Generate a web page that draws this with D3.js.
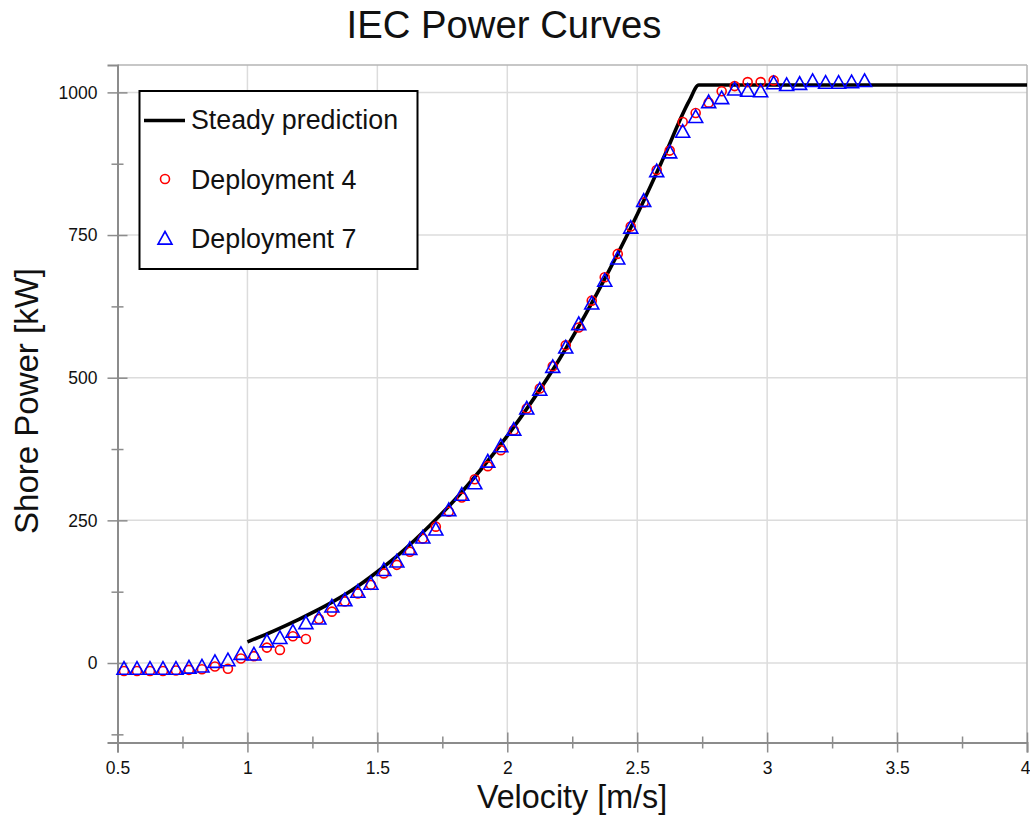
<!DOCTYPE html>
<html>
<head>
<meta charset="utf-8">
<script src="https://cdn.jsdelivr.net/npm/d3@7/dist/d3.min.js"></script>
<style>
  html, body { margin: 0; padding: 0; background: #fff; }
  svg { display: block; }
  text { font-family: "Liberation Sans", Arial, Helvetica, sans-serif; fill: #111; }
</style>
</head>
<body>
<svg id="chart" width="1030" height="815"></svg>
<script>
// ---------------- data ----------------
const binVelocity = [
  0.525,0.575,0.625,0.675,0.725,0.775,0.825,0.875,0.925,0.975,
  1.025,1.075,1.125,1.175,1.225,1.275,1.325,1.375,1.425,1.475,
  1.525,1.575,1.625,1.675,1.725,1.775,1.825,1.875,1.925,1.975,
  2.025,2.075,2.125,2.175,2.225,2.275,2.325,2.375,2.425,2.475,
  2.525,2.575,2.625,2.675,2.725,2.775,2.825,2.875,2.925,2.975,
  3.025,3.075,3.125,3.175,3.225,3.275,3.325,3.375
];
const deployment4Power = [
  -14,-14,-14,-14,-13,-12,-11,-6,-10,8,
  12,27,23,47,42,77,90,108,122,137,
  157,172,195,218,239,265,290,322,345,373,
  408,446,481,520,557,588,635,676,717,765,
  807,864,898,948,964,982,1002,1011,1018,1018,
  1021
];
const deployment7Power = [
  -9,-9,-9,-9,-9,-7,-5,3,6,17,
  16,39,45,56,71,79,100,111,126,140,
  164,179,201,221,235,269,296,316,354,381,
  410,447,480,520,554,595,631,671,710,764,
  811,863,896,932,958,984,991,1006,1004,1003,
  1017,1014,1016,1021,1018,1018,1019,1021
];
const steadyVelocity = [1.0,1.1,1.2,1.3,1.4,1.5,1.6,1.7,1.8,1.9,2.0,2.1,2.2,2.3,2.4,2.5,2.6,2.7,2.737,4.0];
const steadyPower    = [37,56,77,100,127,160,197,240,287,340,398,462,532,610,695,786,884,985,1013,1013];

const xMajorTicks = [0.5,1,1.5,2,2.5,3,3.5,4];
const xMinorTicks = [0.75,1.25,1.75,2.25,2.75,3.25,3.75];
const yMajorTicks = [0,250,500,750,1000];
const yMinorTicks = [-125,125,375,625,875];

const seriesNames = ["Steady prediction","Deployment 4","Deployment 7"];
const titleText = "IEC Power Curves";
const xLabel = "Velocity [m/s]";
const yLabel = "Shore Power [kW]";

// ---------------- layout ----------------
const svg = d3.select("#chart");
const L = 117.5, R = 1027, T = 65, B = 742.5;
const x = d3.scaleLinear().domain([0.5, 4]).range([L, R]);
const y = d3.scaleLinear().domain([-139.3, 1048]).range([B, T]);

const gridColor = "#dcdcdc", axisColor = "#8c8c8c";

// grid
const grid = svg.append("g");
grid.selectAll("line.vx").data(xMajorTicks.filter(d => d > 0.5 && d < 4)).enter().append("line")
  .attr("x1", d => x(d)).attr("x2", d => x(d)).attr("y1", T).attr("y2", B)
  .attr("stroke", gridColor).attr("stroke-width", 1.5);
grid.selectAll("line.hy").data(yMajorTicks).enter().append("line")
  .attr("x1", L).attr("x2", R).attr("y1", d => y(d)).attr("y2", d => y(d))
  .attr("stroke", gridColor).attr("stroke-width", 1.5);

// top/right frame
svg.append("line").attr("x1", L).attr("x2", R).attr("y1", T).attr("y2", T)
  .attr("stroke", "#b4b4b4").attr("stroke-width", 1.5);
svg.append("line").attr("x1", R).attr("x2", R).attr("y1", T).attr("y2", B)
  .attr("stroke", "#b4b4b4").attr("stroke-width", 1.5);

// x axis
const xAxisG = svg.append("g").attr("transform", `translate(0,${B})`)
  .call(d3.axisBottom(x).tickValues(xMajorTicks).tickSize(10).tickFormat(d => String(d)));
xAxisG.select(".domain").attr("stroke", axisColor).attr("stroke-width", 2);
xAxisG.selectAll(".tick line").attr("y1", -10).attr("y2", 10).attr("stroke", axisColor).attr("stroke-width", 1.5);
xAxisG.selectAll(".tick text").attr("y", 31.5).attr("dy", 0).attr("font-size", 17.5)
  .attr("font-family", "'Liberation Sans', Arial, sans-serif").attr("fill", "#111")
  .attr("x", d => d === 4 ? -2 : 0);
const xMinorG = svg.append("g").attr("transform", `translate(0,${B})`)
  .call(d3.axisBottom(x).tickValues(xMinorTicks).tickSize(6).tickFormat(""));
xMinorG.select(".domain").remove();
xMinorG.selectAll(".tick line").attr("y1", -6).attr("y2", 6).attr("stroke", axisColor).attr("stroke-width", 1.5);

// y axis
const yAxisG = svg.append("g").attr("transform", `translate(${L},0)`)
  .call(d3.axisLeft(y).tickValues(yMajorTicks).tickSize(10).tickFormat(d => String(d)));
yAxisG.select(".domain").attr("stroke", axisColor).attr("stroke-width", 2);
yAxisG.selectAll(".tick line").attr("x1", -10).attr("x2", 10).attr("stroke", axisColor).attr("stroke-width", 1.5);
yAxisG.selectAll(".tick text").attr("x", -20).attr("dy", "0.34em").attr("font-size", 17.5)
  .attr("font-family", "'Liberation Sans', Arial, sans-serif").attr("fill", "#111");
const yMinorG = svg.append("g").attr("transform", `translate(${L},0)`)
  .call(d3.axisLeft(y).tickValues(yMinorTicks).tickSize(6).tickFormat(""));
yMinorG.select(".domain").remove();
yMinorG.selectAll(".tick line").attr("x1", -6).attr("x2", 6).attr("stroke", axisColor).attr("stroke-width", 1.5);

// steady line
const steady = steadyVelocity.map((v, i) => [v, steadyPower[i]]);
svg.append("path").datum(steady)
  .attr("d", d3.line().x(d => x(d[0])).y(d => y(d[1])).curve(d3.curveMonotoneX))
  .attr("fill", "none").attr("stroke", "#000").attr("stroke-width", 3.6).attr("stroke-linejoin", "round");

// markers
const triPath = "M0,-6.5L7,6.1L-7,6.1Z";
const d4 = deployment4Power.map((p, i) => [binVelocity[i], p]);
const d7 = deployment7Power.map((p, i) => [binVelocity[i], p]);
svg.append("g").selectAll("circle").data(d4).enter().append("circle")
  .attr("cx", d => x(d[0])).attr("cy", d => y(d[1])).attr("r", 4.5)
  .attr("fill", "none").attr("stroke", "#ff0000").attr("stroke-width", 1.6);
svg.append("g").selectAll("path").data(d7).enter().append("path")
  .attr("d", triPath).attr("transform", d => `translate(${x(d[0])},${y(d[1])})`)
  .attr("fill", "none").attr("stroke", "#0000ff").attr("stroke-width", 1.6).attr("stroke-linejoin", "miter");

// legend
const lg = svg.append("g");
lg.append("rect").attr("x", 139.5).attr("y", 91).attr("width", 278).attr("height", 178)
  .attr("fill", "#fff").attr("stroke", "#000").attr("stroke-width", 2);
lg.append("line").attr("x1", 144).attr("x2", 185).attr("y1", 120.5).attr("y2", 120.5)
  .attr("stroke", "#000").attr("stroke-width", 3.6);
lg.append("circle").attr("cx", 165).attr("cy", 179).attr("r", 4.5)
  .attr("fill", "none").attr("stroke", "#ff0000").attr("stroke-width", 1.6);
lg.append("path").attr("d", triPath).attr("transform", "translate(165,238)")
  .attr("fill", "none").attr("stroke", "#0000ff").attr("stroke-width", 1.6);
const legY = [129, 188.5, 247.5];
seriesNames.forEach((n, i) => {
  lg.append("text").attr("x", 191).attr("y", legY[i]).attr("font-size", 26.8).text(n);
});

// titles
svg.append("text").attr("x", 504).attr("y", 38).attr("text-anchor", "middle")
  .attr("font-size", 38.3).text(titleText);
svg.append("text").attr("x", 572).attr("y", 808).attr("text-anchor", "middle")
  .attr("font-size", 32.3).text(xLabel);
svg.append("text").attr("transform", "translate(38,401) rotate(-90)").attr("text-anchor", "middle")
  .attr("font-size", 33).text(yLabel);
</script>
</body>
</html>
